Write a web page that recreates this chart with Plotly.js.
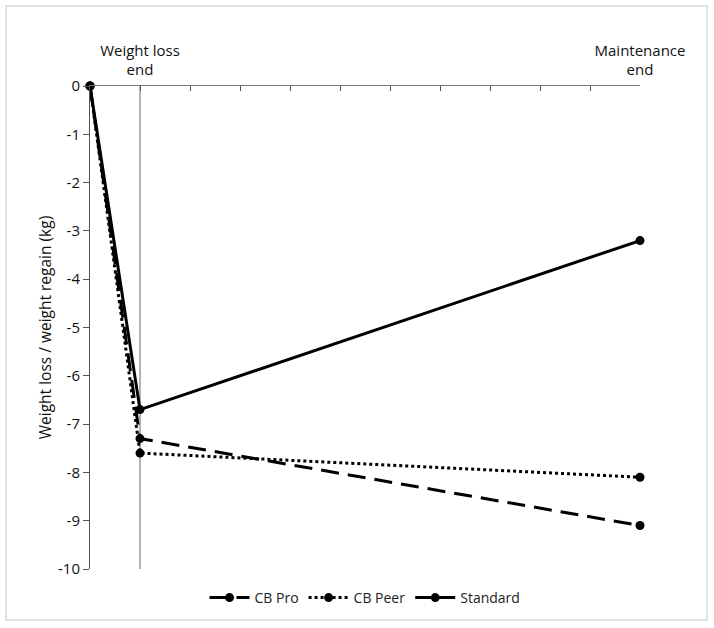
<!DOCTYPE html>
<html>
<head>
<meta charset="utf-8">
<script src="https://cdn.plot.ly/plotly-3.0.1.min.js"></script>
<style>
  body { margin: 0; background: #fff; }
  #chart { width: 714px; height: 628px; }
</style>
</head>
<body>
<div id="chart"></div>
<script>
// time points (category index on the top axis)
const xPoints = [0, 1, 11];
const tickVals = [0, 1, 2, 3, 4, 5, 6, 7, 8, 9, 10, 11];
const tickText = ["", "Weight loss<br>end", "", "", "", "", "", "", "", "", "", "Maintenance<br>end"];

const seriesNames = ["CB Pro", "CB Peer", "Standard"];
const cbPro = [0, -7.3, -9.1];
const cbPeer = [0, -7.6, -8.1];
const standard = [0, -6.7, -3.2];

const yTicks = [0, -1, -2, -3, -4, -5, -6, -7, -8, -9, -10];
const yTickText = ["0", "-1", "-2", "-3", "-4", "-5", "-6", "-7", "-8", "-9", "-10"];

const font = "Open Sans, Liberation Sans, sans-serif";

// plot area is 90..640 x 86..569, used to place the outer border in paper coords
const L = 90, R = 640, T = 86, B = 569;
const px = x => (x - L) / (R - L);
const py = y => (B - y) / (B - T);

const mk = (y, name, dash) => ({
  x: xPoints,
  y: y,
  name: name,
  type: "scatter",
  mode: "lines+markers",
  line: { color: "#000", width: 3, dash: dash },
  marker: { color: "#000", size: 9 },
  cliponaxis: false
});

const traces = [
  mk(cbPro, seriesNames[0], "18px,9px"),
  mk(cbPeer, seriesNames[1], "dot"),
  mk(standard, seriesNames[2], "solid")
];

const layout = {
  width: 714,
  height: 628,
  margin: { l: L, r: 714 - R, t: T, b: 628 - B },
  paper_bgcolor: "#fff",
  plot_bgcolor: "#fff",
  font: { family: font, size: 15, color: "#111" },
  showlegend: true,
  legend: {
    orientation: "h",
    x: 0.5, xanchor: "center",
    y: py(598), yanchor: "middle",
    font: { size: 14, color: "#222" },
    itemwidth: 40
  },
  xaxis: {
    side: "top",
    range: [0, 11],
    tickvals: tickVals,
    ticktext: tickText,
    ticks: "inside",
    ticklen: 5,
    tickcolor: "#555",
    ticklabelstandoff: 4,
    tickfont: { size: 15 },
    showgrid: false,
    zeroline: false,
    showline: true,
    linecolor: "#777",
    linewidth: 1,
    fixedrange: true
  },
  yaxis: {
    range: [-10, 0],
    tickvals: yTicks,
    ticktext: yTickText,
    ticks: "outside",
    ticklen: 6,
    tickcolor: "#555",
    tickfont: { size: 15 },
    showgrid: false,
    zeroline: false,
    showline: true,
    linecolor: "#555",
    linewidth: 1,
    automargin: false,
    title: { text: "Weight loss / weight regain (kg)", font: { size: 15.5 }, standoff: 2 },
    fixedrange: true
  },
  shapes: [
    { type: "line", xref: "x", yref: "y", x0: 1, x1: 1, y0: 0, y1: -10,
      line: { color: "#666", width: 1 }, layer: "below" },
    { type: "rect", xref: "paper", yref: "paper",
      x0: px(6), x1: px(707), y0: py(6), y1: py(620),
      line: { color: "#d9d9d9", width: 1.5 }, layer: "below" }
  ]
};

Plotly.newPlot("chart", traces, layout, { displayModeBar: false, staticPlot: true });
</script>
</body>
</html>
